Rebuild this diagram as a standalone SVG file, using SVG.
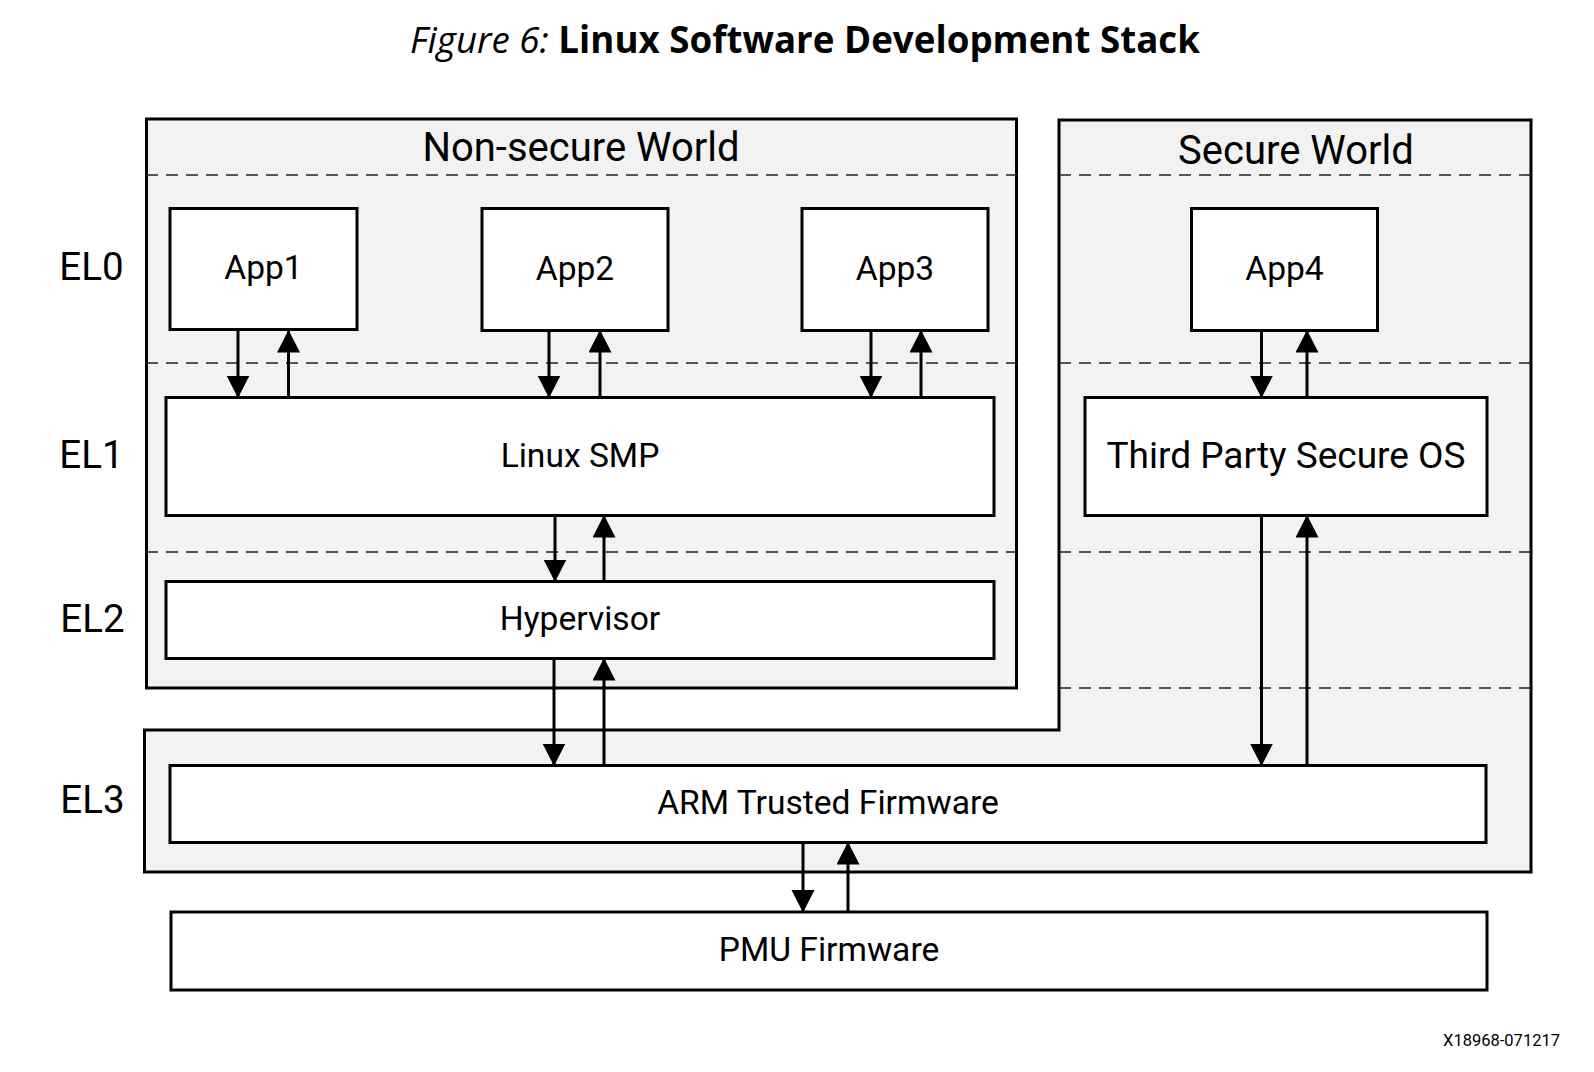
<svg xmlns="http://www.w3.org/2000/svg" width="1594" height="1072" viewBox="0 0 1594 1072">
<style>
.region{fill:#f2f2f2;stroke:#000;stroke-width:3}
.box{fill:#fff;stroke:#000;stroke-width:3}
.dash{stroke:#222;stroke-width:1.6;stroke-dasharray:12 8;fill:none}
.lbl{font-family:Roboto,"Noto Sans",sans-serif;font-size:33.6px;fill:#000;text-anchor:middle}
.world{font-family:Roboto,"Noto Sans",sans-serif;font-size:40px;fill:#000;text-anchor:middle}
.el{font-family:Roboto,"Noto Sans",sans-serif;font-size:38.5px;fill:#000;text-anchor:middle}
.conn line{stroke:#000;stroke-width:3;marker-end:url(#ah)}
</style>
<defs>
<marker id="ah" markerUnits="userSpaceOnUse" markerWidth="24" markerHeight="24" refX="22" refY="11.5" orient="auto">
<path d="M0,0 L22.5,11.5 L0,23 Z" fill="#000"/>
</marker>
</defs>
<rect width="1594" height="1072" fill="#fff"/>
<text x="805" y="53" text-anchor="middle" font-family="'Open Sans','Noto Sans',sans-serif" font-size="37" fill="#000" textLength="790" lengthAdjust="spacingAndGlyphs"><tspan font-style="italic">Figure 6:</tspan> <tspan font-weight="bold">Linux Software Development Stack</tspan></text>

<g id="secure-world">
<path class="region" d="M1059,120 H1531 V872 H144.5 V730 H1059 Z"/>
<text class="world" x="1296" y="164">Secure World</text>
</g>
<g id="non-secure-world">
<rect class="region" x="146.5" y="119" width="870" height="569"/>
<text class="world" x="581" y="161">Non-secure World</text>
</g>
<g id="el-dividers">
<line class="dash" x1="146" y1="175" x2="1017" y2="175"/>
<line class="dash" x1="1059" y1="175" x2="1531" y2="175"/>
<line class="dash" x1="146" y1="363" x2="1017" y2="363"/>
<line class="dash" x1="1059" y1="363" x2="1531" y2="363"/>
<line class="dash" x1="146" y1="552" x2="1017" y2="552"/>
<line class="dash" x1="1059" y1="552" x2="1531" y2="552"/>
<line class="dash" x1="1059" y1="688" x2="1531" y2="688"/>
</g>
<g id="el-labels">
<text class="el" x="91.5" y="280">EL0</text>
<text class="el" x="91.5" y="468">EL1</text>
<text class="el" x="92.5" y="632">EL2</text>
<text class="el" x="92.5" y="813">EL3</text>
</g>
<g id="app1"><rect class="box" x="170" y="208.5" width="187" height="121"/><text class="lbl" x="263.5" y="279">App1</text></g>
<g id="app2"><rect class="box" x="482" y="208.5" width="186" height="122"/><text class="lbl" x="575" y="279.5">App2</text></g>
<g id="app3"><rect class="box" x="802" y="208.5" width="186" height="122"/><text class="lbl" x="895" y="279.5">App3</text></g>
<g id="app4"><rect class="box" x="1191.5" y="208.5" width="186" height="122"/><text class="lbl" x="1284.5" y="279.5">App4</text></g>
<g id="linux-smp"><rect class="box" x="166" y="397.5" width="828" height="118"/><text class="lbl" x="580" y="466.5">Linux SMP</text></g>
<g id="secure-os"><rect class="box" x="1085" y="397.5" width="402" height="118"/><text class="lbl" x="1286" y="468" style="font-size:37px">Third Party Secure OS</text></g>
<g id="hypervisor"><rect class="box" x="166" y="581.5" width="828" height="77"/><text class="lbl" x="580" y="630">Hypervisor</text></g>
<g id="atf"><rect class="box" x="170" y="765.5" width="1316" height="77"/><text class="lbl" x="828" y="814">ARM Trusted Firmware</text></g>
<g id="pmu"><rect class="box" x="171" y="912" width="1316" height="78"/><text class="lbl" x="829" y="961">PMU Firmware</text></g>

<g id="connectors" class="conn">
<line x1="238" y1="329.5" x2="238" y2="397.5"/>
<line x1="288.5" y1="397.5" x2="288.5" y2="330.5"/>
<line x1="549" y1="330.5" x2="549" y2="397.5"/>
<line x1="600" y1="397.5" x2="600" y2="330.5"/>
<line x1="871" y1="330.5" x2="871" y2="397.5"/>
<line x1="921" y1="397.5" x2="921" y2="330.5"/>
<line x1="1261.5" y1="330.5" x2="1261.5" y2="397.5"/>
<line x1="1307" y1="397.5" x2="1307" y2="330.5"/>
<line x1="555" y1="515.5" x2="555" y2="581.5"/>
<line x1="604" y1="581.5" x2="604" y2="515.5"/>
<line x1="554" y1="658.5" x2="554" y2="765.5"/>
<line x1="604" y1="765.5" x2="604" y2="658.5"/>
<line x1="1261.5" y1="515.5" x2="1261.5" y2="765.5"/>
<line x1="1307" y1="765.5" x2="1307" y2="515.5"/>
<line x1="803" y1="842.5" x2="803" y2="912"/>
<line x1="848" y1="912" x2="848" y2="842.5"/>
</g>
<text x="1560" y="1046" text-anchor="end" font-family="Roboto,'Noto Sans',sans-serif" font-size="16.5" fill="#000">X18968-071217</text>
</svg>
